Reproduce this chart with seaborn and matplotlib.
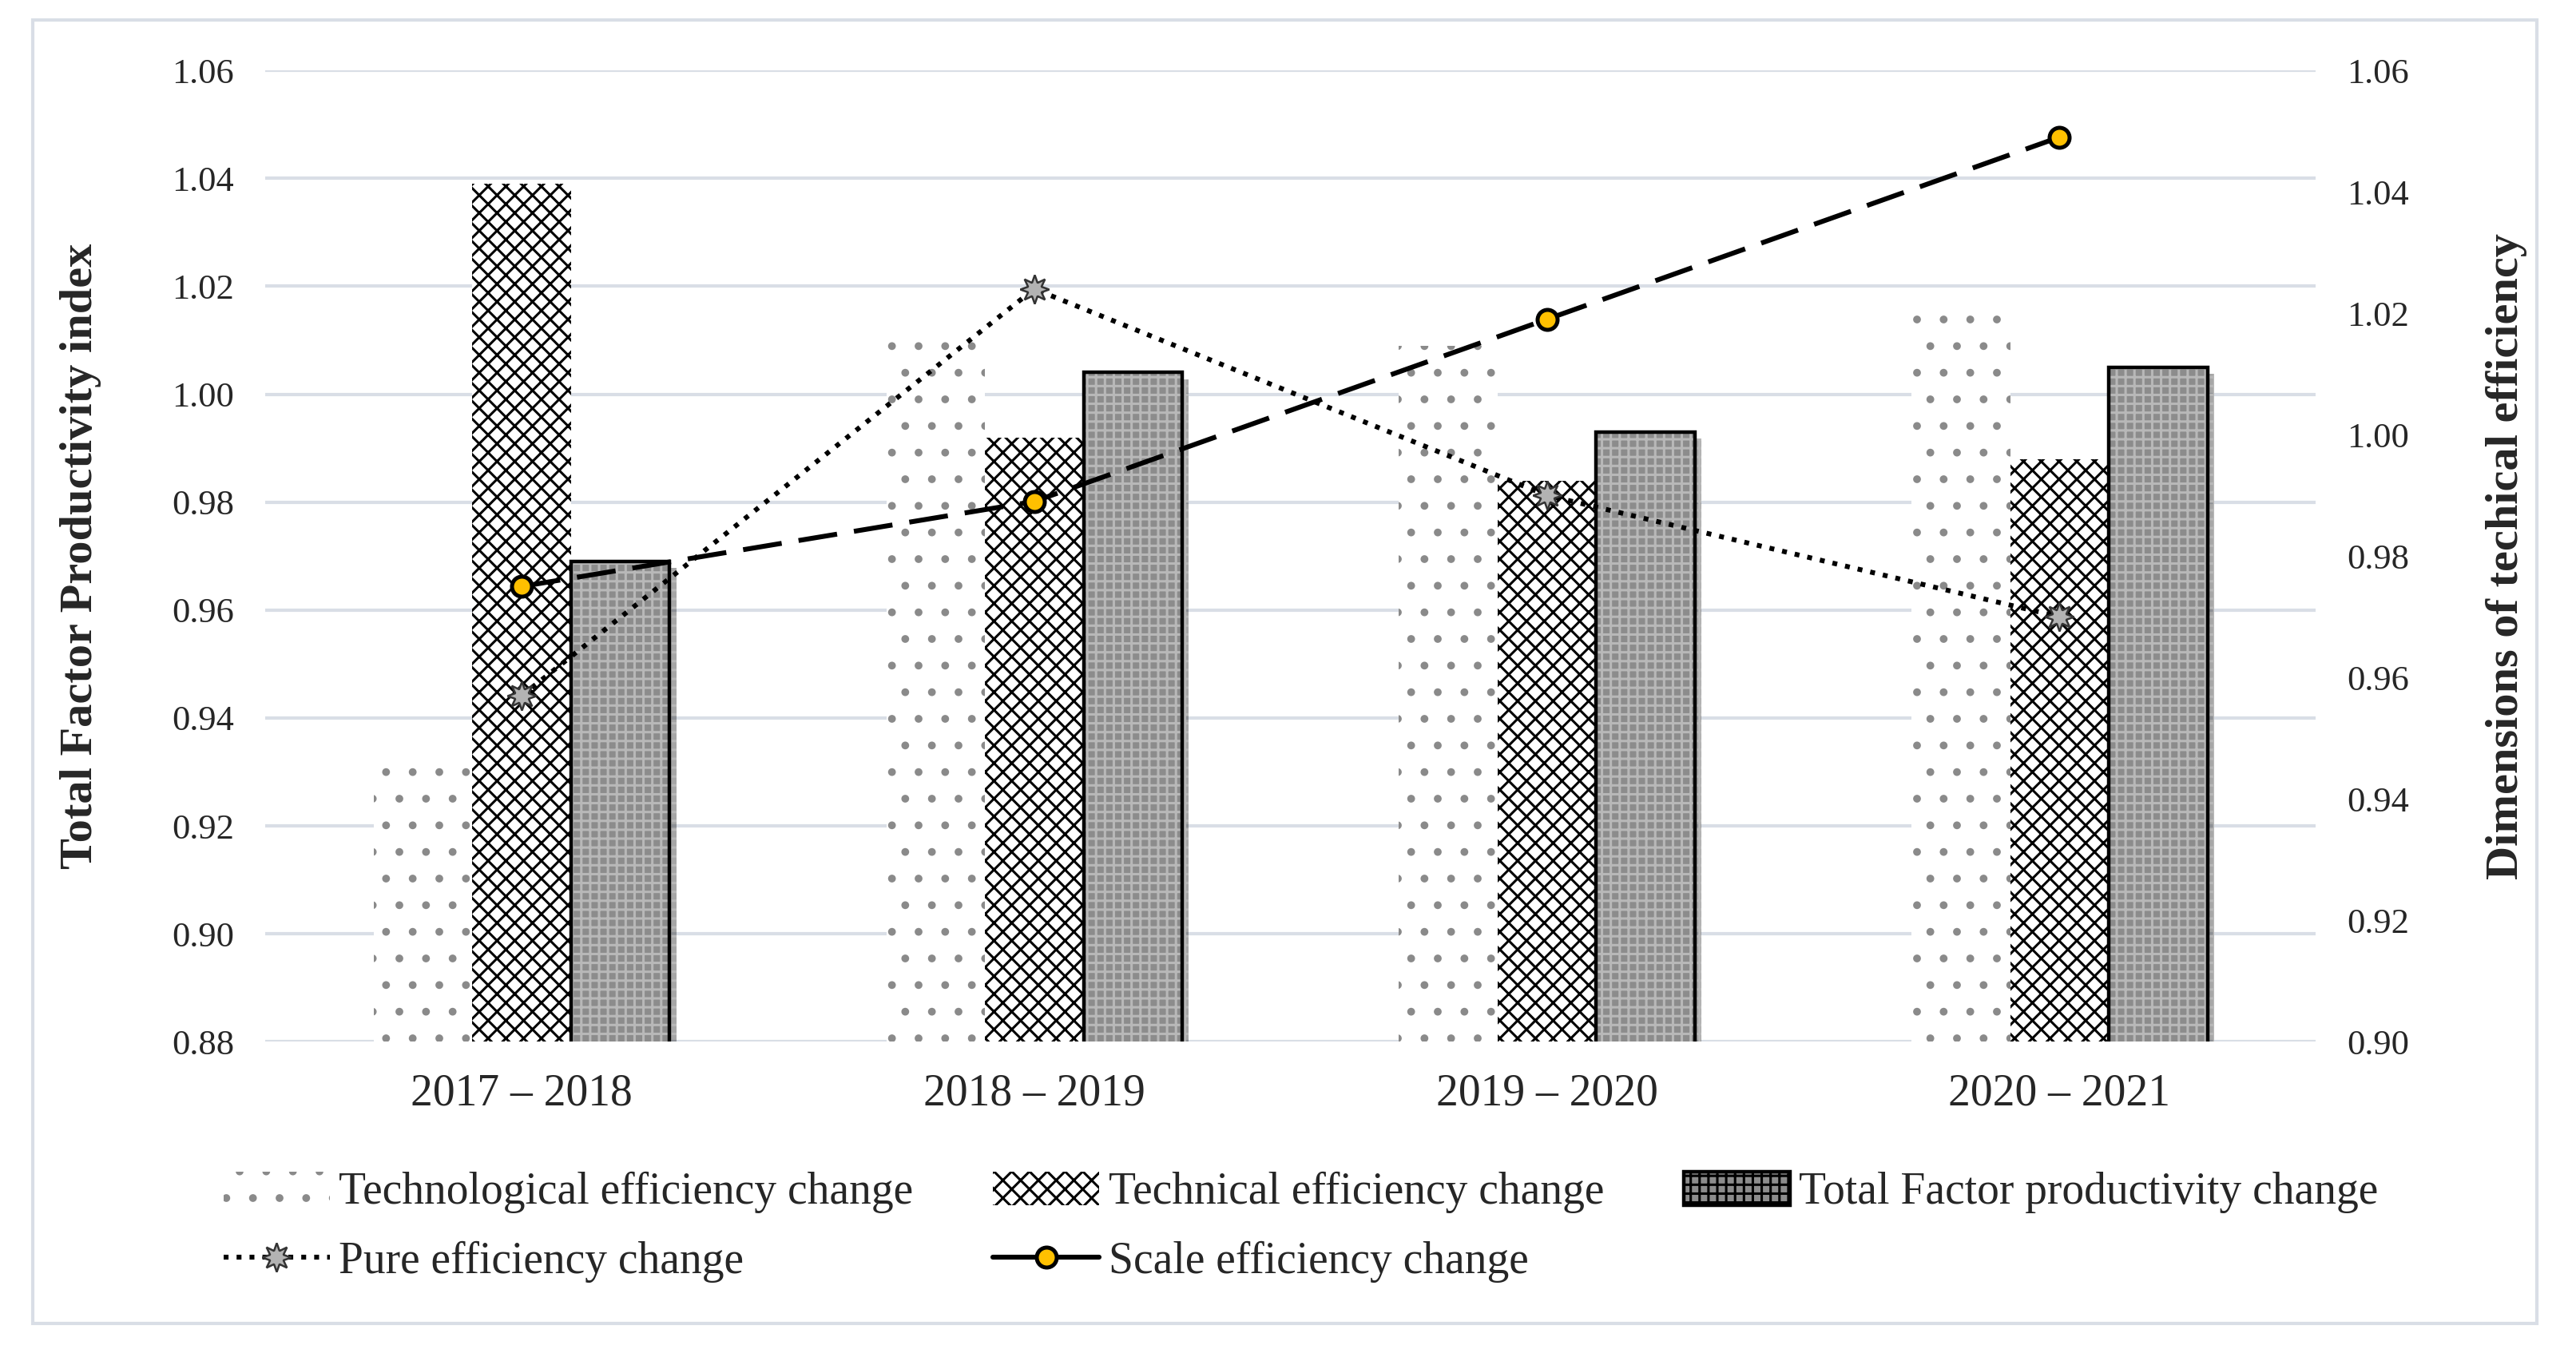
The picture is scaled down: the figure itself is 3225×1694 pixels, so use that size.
import numpy as np
import pandas as pd
import matplotlib
matplotlib.use('Agg')
import matplotlib.pyplot as plt
import matplotlib.patheffects as pe
from matplotlib.patches import Patch, Rectangle
from matplotlib.lines import Line2D
import seaborn as sns

# values
periods = ['2017 \u2013 2018', '2018 \u2013 2019', '2019 \u2013 2020', '2020 \u2013 2021']
technological = [0.932, 1.012, 1.009, 1.016]
technical = [1.039, 0.992, 0.984, 0.988]
tfp = [0.969, 1.004, 0.993, 1.005]
pure_eff = [0.957, 1.024, 0.990, 0.970]
scale_eff = [0.975, 0.989, 1.019, 1.049]

bar_names = ['Technological efficiency change', 'Technical efficiency change',
             'Total Factor productivity change']
left_ticks = [0.88, 0.90, 0.92, 0.94, 0.96, 0.98, 1.00, 1.02, 1.04, 1.06]
right_ticks = [0.90, 0.92, 0.94, 0.96, 0.98, 1.00, 1.02, 1.04, 1.06]

sns.set_style('white')
plt.rcParams['font.family'] = ['Liberation Serif', 'DejaVu Serif']
plt.rcParams['hatch.linewidth'] = 1.1

df = pd.DataFrame({
    'Period': periods * 3,
    'Series': [bar_names[0]] * 4 + [bar_names[1]] * 4 + [bar_names[2]] * 4,
    'Value': technological + technical + tfp,
})

fig = plt.figure(figsize=(16.125, 8.47), dpi=200)
ax = fig.add_axes([0.103, 0.230, 0.796, 0.718])

sns.barplot(data=df, x='Period', y='Value', hue='Series', order=periods,
            hue_order=bar_names, width=0.577, gap=0, ax=ax, legend=False,
            errorbar=None)

hatches = ['.', 'xxx', '+++']
faces = ['white', 'white', '#8c8c8c']
hcols = ['#8a8a8a', 'black', '#b8b8b8']
for cont, h, fc, hc in zip(ax.containers, hatches, faces, hcols):
    for bar in cont:
        bar.set_facecolor(fc)
        bar.set_edgecolor(hc)
        bar.set_hatch(h)
        bar.set_linewidth(0)

# black outline + shadow for TFP bars
for bar in ax.containers[2]:
    bar.set_path_effects([pe.SimplePatchShadow(offset=(3, -3), shadow_rgbFace='black', alpha=0.35),
                          pe.Normal()])
    ax.add_patch(Rectangle(bar.get_xy(), bar.get_width(), bar.get_height(),
                           fill=False, edgecolor='black', linewidth=1.6, zorder=bar.get_zorder() + 0.1))

ax.set_ylim(0.88, 1.06)
ax.set_yticks(left_ticks)
ax.set_yticklabels([f'{t:.2f}' for t in left_ticks])
ax.set_xlim(-0.5, len(periods) - 0.5)
ax.yaxis.grid(True, color='#d9dee6', linewidth=1.5)
ax.set_axisbelow(True)
ax.set_xlabel('')
ax.set_ylabel('Total Factor Productivity index', fontsize=21, fontweight='bold')
ax.yaxis.set_label_coords(-0.080, 0.5)
ax.tick_params(axis='y', labelsize=16, length=0, pad=14)
ax.tick_params(axis='x', labelsize=20, length=0, pad=14)
for s in ax.spines.values():
    s.set_visible(False)

ax2 = ax.twinx()
xpos = np.arange(len(periods))
ax2.plot(xpos, pure_eff, linestyle=':', color='black', linewidth=2.2,
         marker=(8, 1, 0), markersize=13, markerfacecolor='#b3b3b3',
         markeredgecolor='#333333', markeredgewidth=0.9)
ax2.plot(xpos, scale_eff, linestyle=(0, (8, 3.5)), color='black', linewidth=2.2,
         marker='o', markersize=9, markerfacecolor='#ffc000',
         markeredgecolor='black', markeredgewidth=1.8)
ax2.set_ylim(0.90, 1.06)
ax2.set_yticks(right_ticks)
ax2.set_yticklabels([f'{t:.2f}' for t in right_ticks])
ax2.tick_params(axis='y', labelsize=16, length=0, pad=14)
ax2.set_ylabel('Dimensions of techical efficiency', fontsize=21, fontweight='bold')
ax2.yaxis.set_label_coords(1.083, 0.5)
for s in ax2.spines.values():
    s.set_visible(False)

handles = [
    Patch(facecolor='white', edgecolor='#8a8a8a', hatch='.', linewidth=0),
    Line2D([], [], linestyle=':', color='black', linewidth=2.2, marker=(8, 1, 0),
           markersize=13, markerfacecolor='#b3b3b3', markeredgecolor='#333333', markeredgewidth=0.9),
    Patch(facecolor='white', edgecolor='black', hatch='xxx', linewidth=0),
    Line2D([], [], linestyle='-', color='black', linewidth=2.2, marker='o', markersize=9,
           markerfacecolor='#ffc000', markeredgecolor='black', markeredgewidth=1.8),
    Patch(facecolor='#8c8c8c', edgecolor='black', hatch='+++', linewidth=1.6),
]
labels = [bar_names[0], 'Pure efficiency change', bar_names[1], 'Scale efficiency change', bar_names[2]]
fig.legend(handles, labels, ncol=3, loc='center', bbox_to_anchor=(0.505, 0.093),
           frameon=False, fontsize=20, handlelength=2.4, handleheight=0.8,
           handletextpad=0.2, columnspacing=1.8, labelspacing=0.62)

fig.patches.append(Rectangle((0.0127, 0.022), 0.972, 0.963, transform=fig.transFigure,
                             fill=False, edgecolor='#d9dee6', linewidth=1.5))

fig.savefig('out.png', dpi=200, facecolor='white')
